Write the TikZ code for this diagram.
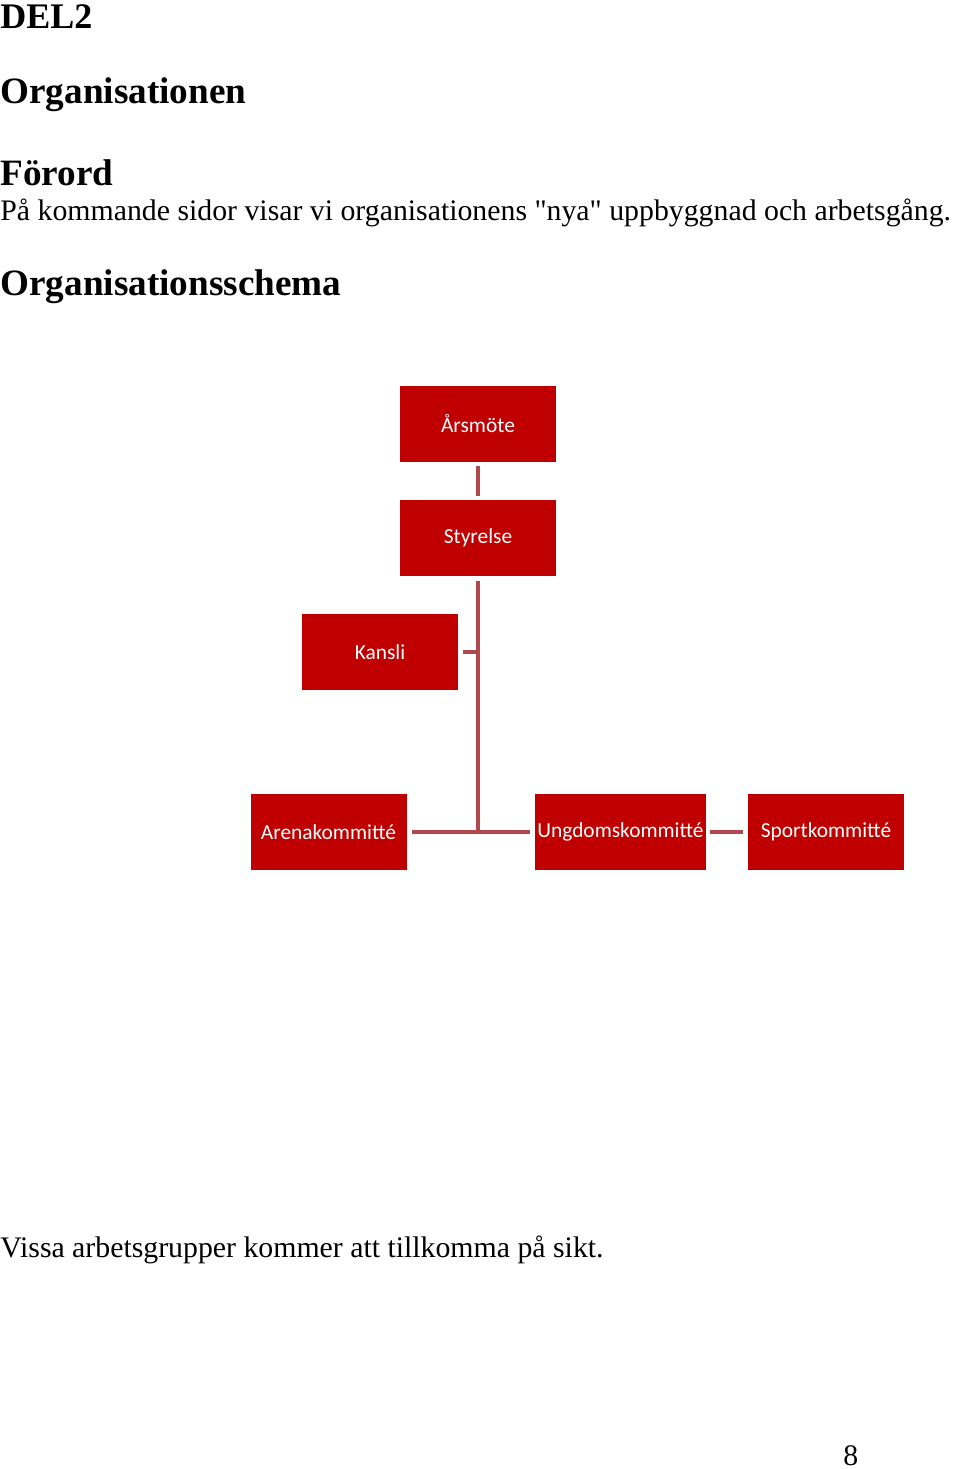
\documentclass[tikz,border=0pt]{standalone}
\usepackage{fontspec}
\setmainfont{Liberation Serif}
\newfontfamily\boxfont{Carlito}
\usepackage{xcolor}
\usepackage{tikz}
\usetikzlibrary{positioning}

\definecolor{boxred}{RGB}{192,0,0}
\definecolor{linkred}{RGB}{176,72,76}

\begin{document}
\begin{tikzpicture}[
  x=0.5pt, y=-0.5pt,
  unit/.style={fill=boxred, text=white, font=\boxfont\fontsize{10.7}{12}\selectfont,
    minimum width=78pt, minimum height=38pt, inner sep=0pt, align=center},
  link/.style={draw=linkred, line width=2pt},
  heading/.style={anchor=base west, inner sep=0pt, font=\bfseries\fontsize{18.6}{20}\selectfont},
  body/.style={anchor=base west, inner sep=0pt, font=\fontsize{14.9}{17}\selectfont}
]
\useasboundingbox (0,0) rectangle (960,1469);

% page text
\node[heading, font=\bfseries\fontsize{18}{20}\selectfont] (del) at (0,28) {DEL2};
\node[heading] (org) at (0,103) {Organisationen};
\node[heading] (forord) at (0,185) {Förord};
\node[body] (intro) at (0,220) {På kommande sidor visar vi organisationens \textquotedbl nya\textquotedbl\ uppbyggnad och arbetsgång.};
\node[heading] (schema) at (0,295) {Organisationsschema};

% boxes
\node[unit] (arsmote) at (478,424) {Årsmöte};
\node[unit] (styrelse) at (478,538) {Styrelse};
\node[unit] (kansli) at (380,652) {Kansli};
\node[unit] (arena) at (328.5,832) {Arenakommitté};
\node[unit, minimum width=85.5pt] (ungdom) at (620.5,832) {Ungdomskommitté};
\node[unit] (sport) at (826,832) {Sportkommitté};

% connectors
\draw[link, shorten <=2pt, shorten >=2pt] (arsmote) -- (styrelse);
\draw[link, shorten <=2.5pt] (styrelse.south) -- (styrelse.south |- arena) coordinate (junction);
\draw[link, shorten <=2.5pt] (kansli.east) -- (kansli.east -| styrelse.south);
\draw[link, shorten <=2.5pt, shorten >=2.5pt] (arena) -- (ungdom);
\draw[link, shorten <=2pt, shorten >=2.5pt] (ungdom) -- (sport);

\node[body] (note) at (0,1257) {Vissa arbetsgrupper kommer att tillkomma på sikt.};
\node[body] (page) at (843,1465) {8};
\end{tikzpicture}
\end{document}
